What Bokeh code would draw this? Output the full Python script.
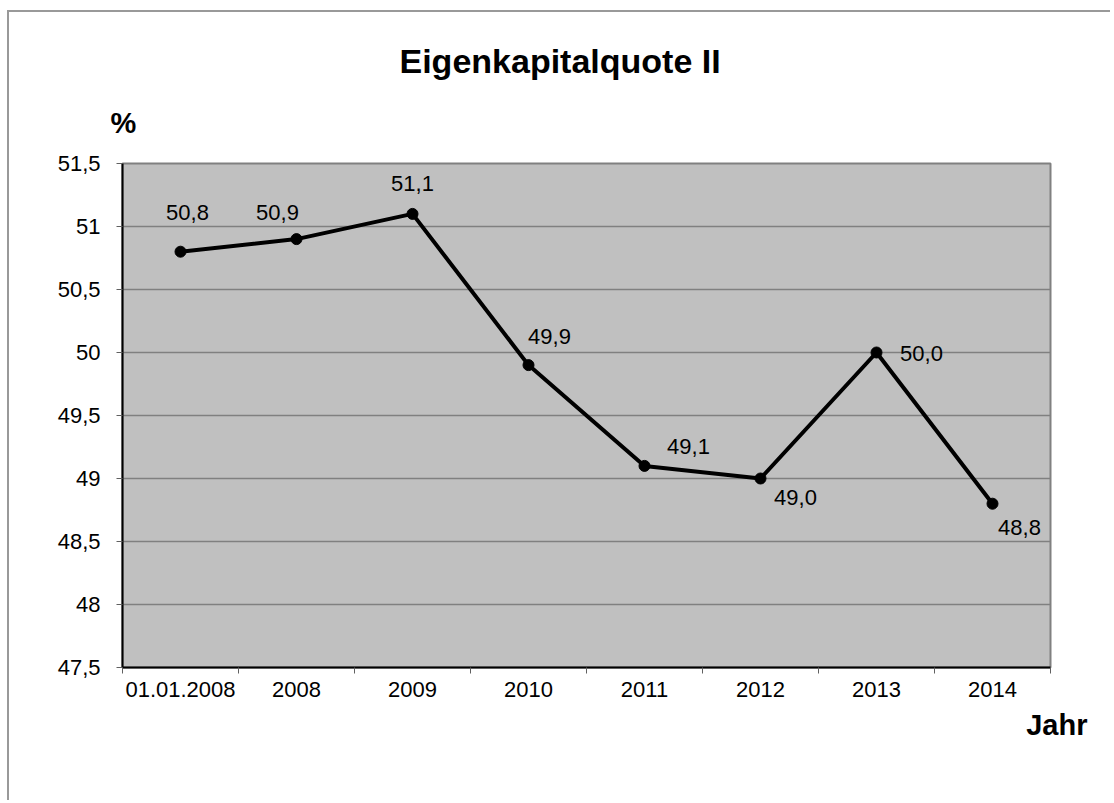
from bokeh.plotting import figure
from bokeh.models import (Range1d, LinearAxis, FixedTicker, Title, BoxAnnotation, ColumnDataSource)
from bokeh.core.properties import value
from bokeh.embed import file_html
from bokeh.resources import INLINE

categories = ["01.01.2008", "2008", "2009", "2010", "2011", "2012", "2013", "2014"]
values = [50.8, 50.9, 51.1, 49.9, 49.1, 49.0, 50.0, 48.8]
value_labels = ["50,8", "50,9", "51,1", "49,9", "49,1", "49,0", "50,0", "48,8"]
y_ticks = [47.5, 48, 48.5, 49, 49.5, 50, 50.5, 51, 51.5]
y_tick_labels = ["47,5", "48", "48,5", "49", "49,5", "50", "50,5", "51", "51,5"]

# label offsets (style, screen px)
lab_dx = [7, -19, 0, 21, 44, 35, 45, 27]
lab_dy = [-39, -27, -30, -29, -19, 19, 1, 24]

FONT = "Liberation Sans"
W, H = 1110, 800
FL, FR, FT, FB = 122, 1050, 163, 667  # frame edges in page pixels
n = len(categories)
xpos = [i + 0.5 for i in range(n)]  # category centres

p = figure(width=W, height=H, output_backend="svg", toolbar_location=None, title_location=None,
           x_range=Range1d(0, n), y_range=Range1d(47.5, 51.5),
           x_axis_location=None, y_axis_location="left",
           min_border_left=FL, min_border_right=W - FR, min_border_top=FT, min_border_bottom=H - FB)
p.background_fill_color = "#C0C0C0"
p.border_fill_color = None
p.outline_line_color = "#808080"
p.outline_line_width = 2
# outer chart border (left & top edges) drawn as inset shadows on the host element
p.styles = {"box-shadow": "inset 7px 10px 0 0 white, inset 9px 12px 0 0 #999999"}
p.stylesheets = ["* { clip-path: none !important; }"]

# y axis
ya = p.yaxis[0]
ya.ticker = FixedTicker(ticks=y_ticks)
ya.major_label_overrides = {t: l for t, l in zip(y_ticks, y_tick_labels)}
ya.axis_line_color = "black"
ya.axis_line_width = 2
ya.major_tick_line_color = "#606060"
ya.major_tick_in = 0
ya.major_tick_out = 6
ya.minor_tick_line_color = None
ya.major_label_standoff = 16
ya.major_label_text_font = FONT
ya.major_label_text_font_size = "22px"
ya.major_label_text_color = "black"

p.xgrid.grid_line_color = None
p.ygrid.ticker = FixedTicker(ticks=y_ticks)
p.ygrid.grid_line_color = "#808080"
p.ygrid.grid_line_width = 1.5

# tick-mark axis at category boundaries
tick_axis = LinearAxis(ticker=FixedTicker(ticks=list(range(n + 1))))
tick_axis.axis_line_color = "black"
tick_axis.axis_line_width = 2
tick_axis.major_tick_line_color = "#606060"
tick_axis.major_tick_in = 0
tick_axis.major_tick_out = 6
tick_axis.minor_tick_line_color = None
tick_axis.major_label_text_font_size = "0px"
tick_axis.major_label_standoff = 0
p.add_layout(tick_axis, "below")

cat_axis = LinearAxis(ticker=FixedTicker(ticks=xpos))
cat_axis.major_label_overrides = {x: c for x, c in zip(xpos, categories)}
cat_axis.axis_line_color = None
cat_axis.major_tick_line_color = None
cat_axis.minor_tick_line_color = None
cat_axis.major_label_standoff = 2
cat_axis.major_label_text_font = FONT
cat_axis.major_label_text_font_size = "22px"
cat_axis.major_label_text_color = "black"
p.add_layout(cat_axis, "below")

src = ColumnDataSource(dict(x=xpos, y=values, lab=value_labels, dx=lab_dx, dy=lab_dy))
p.line("x", "y", source=src, line_color="black", line_width=4)
p.scatter("x", "y", source=src, size=11, fill_color="black", line_color="black")
p.text("x", "y", text="lab", source=src, x_offset="dx", y_offset="dy",
       text_align="center", text_baseline="middle", text_font=value(FONT),
       text_font_size="22px", text_color="black")

# titles in the side panels (p.above[0] sits next to the frame)
t_pct = Title(text="%", align="left", offset=110 - FL, standoff=50, vertical_align="bottom",
              text_font=FONT, text_font_size="29px", text_font_style="bold", text_color="black")
t_main = Title(text="Eigenkapitalquote II", align="left", offset=277, standoff=0, vertical_align="bottom",
               text_font=FONT, text_font_size="34px", text_font_style="bold", text_color="black")
p.add_layout(t_pct, "above")
p.add_layout(t_main, "above")
t_jahr = Title(text="Jahr", align="right", offset=FR - 1087, standoff=19, vertical_align="top",
               text_font=FONT, text_font_size="29px", text_font_style="bold", text_color="black")
p.add_layout(t_jahr, "below")

# underline of the title (screen units: x from frame left, y up from frame bottom)
def sx(px):
    return px - FL

def sy(py):
    return FB - py

p.add_layout(BoxAnnotation(left=sx(383), right=sx(738), top=sy(82), bottom=sy(85), level="overlay",
                           left_units="screen", right_units="screen", top_units="screen", bottom_units="screen",
                           fill_color="black", fill_alpha=1, line_color=None))

open("out.html", "w").write(file_html(p, INLINE))
